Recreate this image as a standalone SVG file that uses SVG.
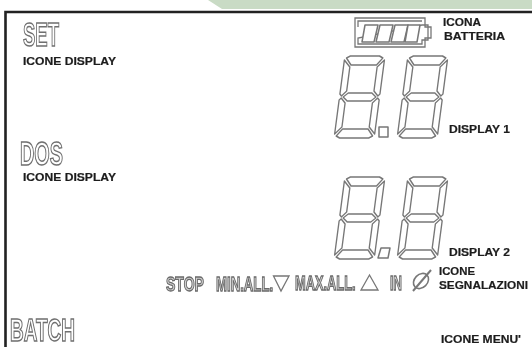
<svg xmlns="http://www.w3.org/2000/svg" width="532" height="347" viewBox="0 0 532 347">
<style>
.l{font-family:"Liberation Sans",Arial,sans-serif;font-weight:bold;font-size:11px;fill:#1c1c1c;stroke:#1c1c1c;stroke-width:.2}
.o{font-family:"Liberation Sans",Arial,sans-serif;font-weight:bold;fill:#fff;stroke:#6f6f6f;stroke-width:1.500}
.m{font-family:"Liberation Sans",Arial,sans-serif;font-weight:bold;font-size:12px;fill:#d0d0d0;stroke:#6a6a6a;stroke-width:1.100}
.m text{vector-effect:non-scaling-stroke}
.s{fill:#fff;stroke:#777;stroke-width:1.500;stroke-linejoin:round}
</style>
<defs>
<filter id="b" x="-2%" y="-2%" width="104%" height="104%"><feGaussianBlur stdDeviation="0.45"/></filter>
<g id="digit" class="s">
<path d="M3,2L7,0H39L43,2L37,9H9Z"/>
<path d="M1,4L8,11V35L3,40L1,38Z"/>
<path d="M45,4L38,11V35L43,40L45,38Z"/>
<path d="M5,41L10,37H36L41,41L36,45H10Z"/>
<path d="M1,44L3,42L8,47V71L1,78Z"/>
<path d="M45,44L43,42L38,47V71L45,78Z"/>
<path d="M3,80L9,73H37L43,80L39,82H7Z"/>
</g>
</defs>
<rect width="532" height="347" fill="#fff"/>
<g filter="url(#b)">
<path d="M208,0L222,9H532V0Z" fill="#c9dbc5"/>
<path d="M532,12H5.500V347" fill="none" stroke="#222" stroke-width="2.600"/>
<g id="icon-set"><text class="o" x="23" y="46" font-size="34" textLength="36" lengthAdjust="spacingAndGlyphs">SET</text><text class="l" x="23" y="65" textLength="93" lengthAdjust="spacingAndGlyphs">ICONE DISPLAY</text></g>
<g id="icon-dos"><text class="o" x="20" y="165" font-size="33" textLength="43" lengthAdjust="spacingAndGlyphs">DOS</text><text class="l" x="23" y="181" textLength="93" lengthAdjust="spacingAndGlyphs">ICONE DISPLAY</text></g>
<g id="icon-batch"><text class="o" x="10" y="341" font-size="31" textLength="65" lengthAdjust="spacingAndGlyphs">BATCH</text></g>
<g id="battery">
<path d="M425,18H355V47H425V38H431V27H425Z" fill="none" stroke="#777" stroke-width="1.300"/>
<path d="M422,21H358V27M358,38V44H422V40H428V25H422Z" fill="none" stroke="#777" stroke-width="1.300"/>
<g class="s"><path d="M365,25H378L374,42H362Z"/><path d="M380,25H393L389,42H376Z"/><path d="M395,25H408L404,42H391Z"/><path d="M408,25H420L417,42H405Z"/></g>
<text class="l" x="443" y="26" textLength="38" lengthAdjust="spacingAndGlyphs">ICONA</text>
<text class="l" x="444" y="40" textLength="61" lengthAdjust="spacingAndGlyphs">BATTERIA</text>
</g>
<g id="display-1">
<use href="#digit" transform="translate(344,56) skewX(-7.500) scale(.91,1)"/>
<use href="#digit" transform="translate(407,56) skewX(-7.500) scale(.91,1)"/>
<rect class="s" x="379" y="127" width="9" height="10"/>
<text class="l" x="449" y="133" textLength="61" lengthAdjust="spacingAndGlyphs">DISPLAY 1</text>
</g>
<g id="display-2">
<use href="#digit" transform="translate(344,177) skewX(-7.500) scale(.91,1)"/>
<use href="#digit" transform="translate(407,177) skewX(-7.500) scale(.91,1)"/>
<path class="s" d="M381,248H390L388,258H378Z"/>
<text class="l" x="449" y="256" textLength="61" lengthAdjust="spacingAndGlyphs">DISPLAY 2</text>
</g>
<g id="signals">
<g class="m">
<text transform="translate(166,291) scale(1.170,1.750)">STOP</text>
<text transform="translate(216,291) scale(1.100,1.750)">MIN.ALL.</text>
<text transform="translate(295,290) scale(1.070,1.750)">MAX.ALL.</text>
<text transform="translate(390,290) scale(1.000,1.750)">IN</text>
</g>
<path d="M273.500,276H289L281,291Z" fill="#fff" stroke="#777" stroke-width="1.300"/>
<path d="M361,290H378L369.500,275Z" fill="#fff" stroke="#777" stroke-width="1.300"/>
<ellipse cx="421" cy="281" rx="8.500" ry="6.500" transform="rotate(-45 421 281)" fill="#fff" stroke="#777" stroke-width="1.600"/>
<path d="M413,291L431,270" stroke="#777" stroke-width="2"/>
<text class="l" x="439" y="275" textLength="36" lengthAdjust="spacingAndGlyphs">ICONE</text>
<text class="l" x="439" y="289" textLength="89" lengthAdjust="spacingAndGlyphs">SEGNALAZIONI</text>
</g>
<g id="menu"><text class="l" x="441" y="343" textLength="80" lengthAdjust="spacingAndGlyphs">ICONE MENU'</text></g>
</g>
</svg>
